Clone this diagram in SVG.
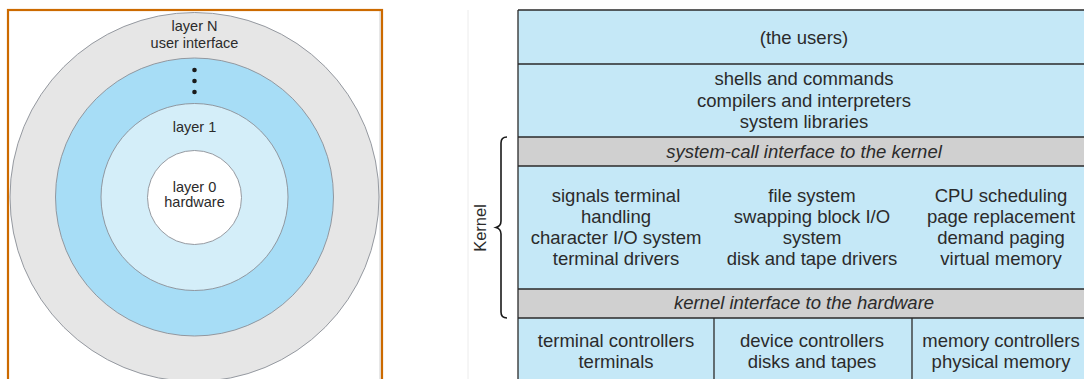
<svg xmlns="http://www.w3.org/2000/svg" width="1084" height="379" viewBox="0 0 1084 379">
  <style>
    .t { font-family: "Liberation Sans", Arial, sans-serif; fill: #2b2b2b; text-anchor: middle; }
    .s { font-size: 14.5px; }
    .m { font-size: 18.5px; }
    .i { font-style: italic; }
    .ring { stroke: #8a8f96; stroke-width: 0.9; }
    .row { stroke: #2a2a2a; stroke-width: 1.3; }
    .blue { fill: #c5e8f7; }
    .gray { fill: #d0d0d0; }
  </style>
  <rect width="1084" height="379" fill="#ffffff"/>

  <!-- left panel: concentric layers -->
  <g id="layers-panel">
    <line x1="380" y1="11" x2="380" y2="379" stroke="#cfcfcf" stroke-width="1"/>
    <rect x="8" y="10" width="374" height="380" fill="none" stroke="#cc6a00" stroke-width="2.2"/>
  </g>
  <g id="layer-n">
    <circle cx="194.5" cy="197" r="184.5" fill="#e6e6e6" class="ring"/>
    <text class="t s" x="194.5" y="31">layer N</text>
    <text class="t s" x="194.5" y="48">user interface</text>
  </g>
  <g id="layer-mid">
    <circle cx="194.5" cy="197" r="139" fill="#a7ddf6" class="ring"/>
    <circle cx="194.5" cy="70" r="2.3" fill="#1a1a1a"/>
    <circle cx="194.5" cy="81" r="2.3" fill="#1a1a1a"/>
    <circle cx="194.5" cy="92" r="2.3" fill="#1a1a1a"/>
  </g>
  <g id="layer-1">
    <circle cx="194.5" cy="197" r="93.5" fill="#d4eef9" class="ring"/>
    <text class="t s" x="194.5" y="132">layer 1</text>
  </g>
  <g id="layer-0">
    <circle cx="194.5" cy="197.5" r="47" fill="#ffffff" class="ring"/>
    <text class="t s" x="194.5" y="192">layer 0</text>
    <text class="t s" x="194.5" y="207">hardware</text>
  </g>

  <!-- right panel: UNIX system structure -->
  <line x1="468" y1="10" x2="468" y2="379" stroke="#ececec" stroke-width="1"/>

  <g id="users">
    <rect x="518" y="10" width="572" height="54" class="blue"/>
    <text class="t m" x="804" y="44">(the users)</text>
  </g>
  <g id="shells">
    <rect x="518" y="64" width="572" height="73" class="blue"/>
    <text class="t m" x="804" y="85">shells and commands</text>
    <text class="t m" x="804" y="107">compilers and interpreters</text>
    <text class="t m" x="804" y="128">system libraries</text>
  </g>
  <g id="syscall-interface">
    <rect x="518" y="137" width="572" height="29" class="gray"/>
    <text class="t m i" x="804" y="158">system-call interface to the kernel</text>
  </g>
  <g id="kernel-services">
    <rect x="518" y="166" width="572" height="123" class="blue"/>
    <text class="t m" x="616" y="202">signals terminal</text>
    <text class="t m" x="616" y="223">handling</text>
    <text class="t m" x="616" y="244">character I/O system</text>
    <text class="t m" x="616" y="265">terminal drivers</text>
    <text class="t m" x="812" y="202">file system</text>
    <text class="t m" x="812" y="223">swapping block I/O</text>
    <text class="t m" x="812" y="244">system</text>
    <text class="t m" x="812" y="265">disk and tape drivers</text>
    <text class="t m" x="1001" y="202">CPU scheduling</text>
    <text class="t m" x="1001" y="223">page replacement</text>
    <text class="t m" x="1001" y="244">demand paging</text>
    <text class="t m" x="1001" y="265">virtual memory</text>
  </g>
  <g id="hw-interface">
    <rect x="518" y="289" width="572" height="29" class="gray"/>
    <text class="t m i" x="804" y="309">kernel interface to the hardware</text>
  </g>
  <g id="hardware-row">
    <rect x="518" y="318" width="572" height="70" class="blue"/>
    <text class="t m" x="616" y="347">terminal controllers</text>
    <text class="t m" x="616" y="368">terminals</text>
    <text class="t m" x="812" y="347">device controllers</text>
    <text class="t m" x="812" y="368">disks and tapes</text>
    <text class="t m" x="1001" y="347">memory controllers</text>
    <text class="t m" x="1001" y="368">physical memory</text>
  </g>

  <g id="connectors" fill="none">
    <!-- table rules -->
    <line class="row" x1="518" y1="10" x2="1090" y2="10"/>
    <line class="row" x1="518" y1="64" x2="1090" y2="64"/>
    <line class="row" x1="518" y1="137" x2="1090" y2="137"/>
    <line class="row" x1="518" y1="166" x2="1090" y2="166" stroke="#9aa6ad" stroke-width="0.6"/>
    <line class="row" x1="518" y1="289" x2="1090" y2="289" stroke="#9aa6ad" stroke-width="0.6"/>
    <line class="row" x1="518" y1="318" x2="1090" y2="318"/>
    <line class="row" x1="518" y1="10" x2="518" y2="379"/>
    <line class="row" x1="714" y1="318" x2="714" y2="379"/>
    <line class="row" x1="912" y1="318" x2="912" y2="379"/>
    <!-- kernel brace -->
    <path d="M507,137 Q501,137 501,143 L501,221 Q501,226 496,227.5 Q501,229 501,234 L501,312 Q501,318 507,318" stroke="#1a1a1a" stroke-width="1.6"/>
  </g>
  <g id="kernel-label">
    <text class="t" font-size="16.5" transform="translate(486,228) rotate(-90)">Kernel</text>
  </g>
</svg>
